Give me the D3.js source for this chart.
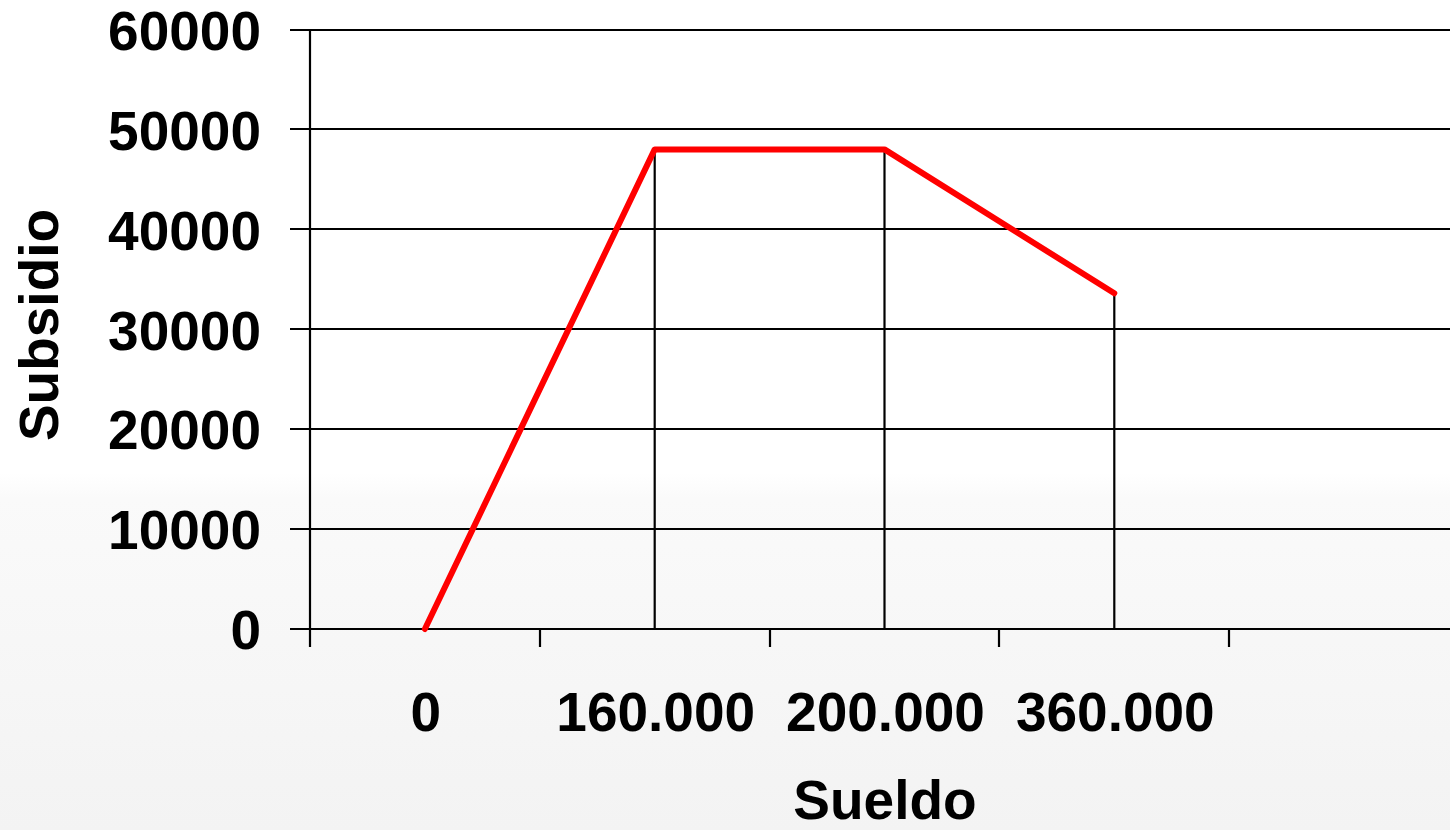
<html>
<head>
<script src="https://d3js.org/d3.v7.min.js"></script>
<style>
  body { margin: 0; }
  svg text { font-family: "Liberation Sans", Arial, sans-serif; font-weight: bold; fill: #000; }
</style>
</head>
<body>
<svg id="chart"></svg>
<script>
// data
var sueldo = ["0", "160.000", "200.000", "360.000", ""];   // last slot is empty
var subsidio = [0, 48000, 48000, 33600];
var yTicks = [0, 10000, 20000, 30000, 40000, 50000, 60000];

var w = 1450, h = 830;
var fs = "55px";
var svg = d3.select("#chart").attr("width", w).attr("height", h);

// soft grey fade at the bottom
var grad = svg.append("defs").append("linearGradient")
    .attr("id", "bg").attr("x1", 0).attr("y1", 0).attr("x2", 0).attr("y2", 1);
grad.append("stop").attr("offset", "0.57").attr("stop-color", "#ffffff");
grad.append("stop").attr("offset", "0.6").attr("stop-color", "#fafafa");
grad.append("stop").attr("offset", "1").attr("stop-color", "#f3f3f3");
svg.append("rect").attr("width", w).attr("height", h).attr("fill", "url(#bg)");

var x = d3.scaleBand().domain(sueldo).range([310, 1459]);
var y = d3.scaleLinear().domain([0, 60000]).range([629, 29.5]);

// horizontal grid
svg.append("g").selectAll("line")
    .data(yTicks)
    .enter().append("line")
    .attr("x1", 290).attr("x2", w)
    .attr("y1", function (d) { return Math.round(y(d)); })
    .attr("y2", function (d) { return Math.round(y(d)); })
    .attr("stroke", "#000").attr("stroke-width", 2.2);

// y axis labels
var yAxis = d3.axisLeft(y).tickValues(yTicks).tickSize(0).tickPadding(0).tickFormat(d3.format("d"));
var gy = svg.append("g").attr("transform", "translate(261,0)").call(yAxis);
gy.select(".domain").remove();
gy.selectAll("text").attr("font-size", fs).attr("dy", "0.36em")
    .style("font-family", "'Liberation Sans', Arial, sans-serif").style("font-weight", "bold");

// vertical axis line
svg.append("line")
    .attr("x1", 310).attr("x2", 310).attr("y1", Math.round(y(60000)) - 1).attr("y2", 647)
    .attr("stroke", "#000").attr("stroke-width", 2.2);

// category boundary ticks
svg.append("g").selectAll("line")
    .data(sueldo.slice(1))
    .enter().append("line")
    .attr("x1", function (d) { return Math.round(x(d)); })
    .attr("x2", function (d) { return Math.round(x(d)); })
    .attr("y1", y(0)).attr("y2", 647)
    .attr("stroke", "#000").attr("stroke-width", 2.2);

// x labels centred in each band
var xAxis = d3.axisBottom(x).tickSize(0).tickPadding(0);
var gx = svg.append("g").attr("transform", "translate(1,731)").call(xAxis);
gx.select(".domain").remove();
gx.selectAll("text").attr("font-size", fs).attr("dy", 0).attr("y", 0)
    .style("font-family", "'Liberation Sans', Arial, sans-serif").style("font-weight", "bold");

var pts = subsidio.map(function (v, i) {
    return { cx: x(sueldo[i]) + x.bandwidth() / 2, cy: y(v), v: v };
});

// drop lines
svg.append("g").selectAll("line")
    .data(pts.filter(function (d) { return d.v > 0; }))
    .enter().append("line")
    .attr("x1", function (d) { return d.cx; })
    .attr("x2", function (d) { return d.cx; })
    .attr("y1", function (d) { return d.cy; })
    .attr("y2", y(0))
    .attr("stroke", "#000").attr("stroke-width", 2.2);

// the red series
var line = d3.line()
    .x(function (d) { return d.cx; })
    .y(function (d) { return d.cy; });
svg.append("path")
    .datum(pts)
    .attr("d", line)
    .attr("fill", "none")
    .attr("stroke", "#ff0000")
    .attr("stroke-width", 6)
    .attr("stroke-linejoin", "round")
    .attr("stroke-linecap", "round");

// axis titles
svg.append("text")
    .attr("text-anchor", "middle")
    .attr("x", 885).attr("y", 819)
    .attr("font-size", fs)
    .text("Sueldo");

svg.append("text")
    .attr("text-anchor", "middle")
    .attr("transform", "translate(58,325)rotate(-90)")
    .attr("font-size", fs)
    .text("Subsidio");
</script>
</body>
</html>
